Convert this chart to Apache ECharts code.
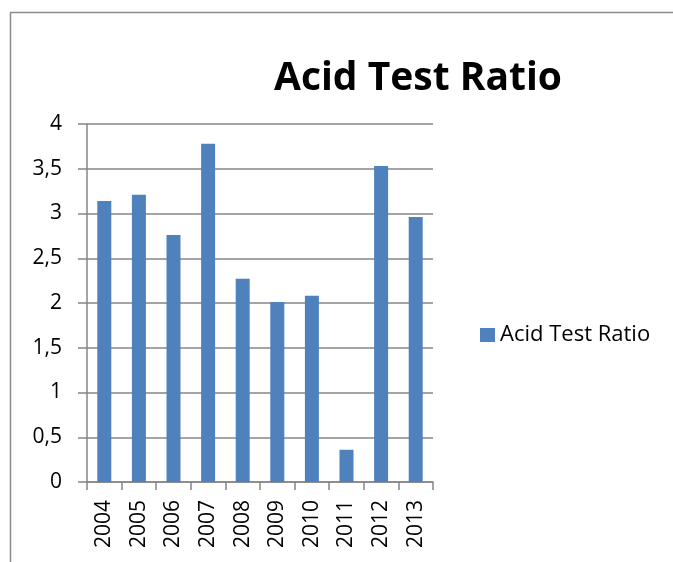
<!DOCTYPE html>
<html lang="en">
<head>
    <meta charset="UTF-8">
    <title>Acid Test Ratio</title>
    <script src="https://cdn.jsdelivr.net/npm/echarts@6/dist/echarts.min.js"></script>
    <style>
        html, body { margin: 0; padding: 0; background: #fff; }
        #main { width: 673px; height: 562px; }
    </style>
</head>
<body>
<div id="main"></div>

<script type="text/javascript">
    // data
    var years = ['2004', '2005', '2006', '2007', '2008', '2009', '2010', '2011', '2012', '2013'];
    var ratios = [3.14, 3.21, 2.76, 3.78, 2.27, 2.01, 2.08, 0.36, 3.53, 2.96];
    var seriesName = 'Acid Test Ratio';

    var font = '"Open Sans", "Noto Sans", sans-serif';
    var gray = '#868686';

    var myChart = echarts.init(document.getElementById('main'));

    var option = {
        animation: false,
        graphic: [{
            type: 'rect',
            shape: { x: 10.5, y: 12.5, width: 700, height: 600 },
            style: { fill: 'none', stroke: '#8c8c8c', lineWidth: 1.5 },
            silent: true
        }],
        title: {
            text: 'Acid Test Ratio',
            left: 413,
            textAlign: 'center',
            top: 54,
            textStyle: { fontFamily: font, fontWeight: 'bold', fontSize: 39, color: '#000' }
        },
        legend: {
            data: [seriesName],
            left: 475,
            top: 319,
            itemWidth: 15,
            itemHeight: 14,
            itemGap: 8,
            icon: 'rect',
            textStyle: { fontFamily: font, fontSize: 22, color: '#000' }
        },
        grid: { left: 87, right: 240, top: 124, bottom: 80 },
        xAxis: {
            type: 'category',
            data: years,
            axisLine: { lineStyle: { color: gray, width: 1.5 } },
            axisTick: { show: true, length: 8, lineStyle: { color: gray, width: 1.5 } },
            axisLabel: { rotate: 90, fontFamily: font, fontSize: 21, color: '#000', margin: 18 }
        },
        yAxis: {
            type: 'value',
            min: 0,
            max: 4,
            interval: 0.5,
            axisLine: { show: true, lineStyle: { color: gray, width: 1.5 } },
            axisTick: { show: true, length: 9, lineStyle: { color: gray, width: 1.5 } },
            splitLine: { lineStyle: { color: gray, width: 1.5 } },
            axisLabel: {
                fontFamily: font, fontSize: 21, color: '#000', margin: 25,
                formatter: function (v) { return String(v).replace('.', ','); }
            }
        },
        series: [{
            name: seriesName,
            type: 'bar',
            data: ratios,
            barWidth: 14,
            itemStyle: { color: '#4f81bd' }
        }]
    };
    myChart.setOption(option);
</script>
</body>
</html>
